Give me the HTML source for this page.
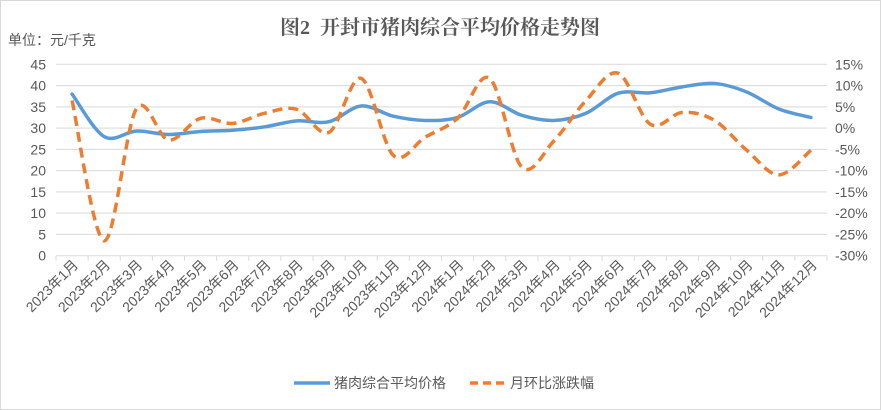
<!DOCTYPE html>
<html><head><meta charset="utf-8"><style>
body{margin:0;background:#fff}
svg{display:block;font-family:"Liberation Sans","Noto Sans CJK SC",sans-serif}
</style></head><body>
<svg id="s" width="881" height="410" xmlns="http://www.w3.org/2000/svg">
<rect x="0.5" y="0.5" width="880" height="409" fill="#fff" stroke="#d9d9d9"/>
<text x="440" y="34" text-anchor="middle" font-size="20" font-weight="bold" fill="#595959" font-family="'Liberation Serif','Noto Serif CJK SC',serif">图2&#160;&#160;开封市猪肉综合平均价格走势图</text>
<text x="8" y="45" font-size="14" fill="#595959">单位：元/千克</text>
<g id="g"></g>
</svg>
<script>
var g=document.getElementById('g'),h='';
var L=56,R=827,T=64.3,B=255.7;
for(var i=0;i<=9;i++){var y=T+(B-T)*i/9;
h+='<line x1="'+L+'" x2="'+R+'" y1="'+y+'" y2="'+y+'" stroke="#d9d9d9"/>';
h+='<text x="46" y="'+(y+5)+'" text-anchor="end" font-size="14" fill="#595959">'+(45-5*i)+'</text>';
h+='<text x="835" y="'+(y+5)+'" font-size="14" fill="#595959">'+(15-5*i)+'%</text>';}
var w=(R-L)/24;
for(var i=0;i<=24;i++){var x=L+w*i;h+='<line x1="'+x+'" x2="'+x+'" y1="'+B+'" y2="'+(B+5)+'" stroke="#d9d9d9"/>';}
for(var i=0;i<24;i++){var x=L+w*i+w/2+7,y=B+10;var lab=(i<12?'2023':'2024')+'年'+(i%12+1)+'月';
h+='<text transform="translate('+x+','+y+') rotate(-45)" text-anchor="end" font-size="14" fill="#595959">'+lab+'</text>';}
var b=[38,28,29.3,28.5,29.2,29.5,30.3,31.7,31.5,35.2,32.8,31.8,32.5,36.2,33,31.8,33.5,38.2,38.3,39.7,40.5,38.5,34.5,32.5];
var o=[6.5,-26.5,4.5,-2.8,2.3,1.1,3.5,4.4,-1,11.7,-6.4,-2.1,2.3,11.7,-9.2,-3,6.5,12.9,0.9,3.7,1.8,-5.2,-11,-5.2];
function path(pts){var d='M'+pts[0][0]+','+pts[0][1];for(var i=0;i<pts.length-1;i++){var p0=pts[i-1]||pts[i],p1=pts[i],p2=pts[i+1],p3=pts[i+2]||p2;var t=6;
d+=' C'+(p1[0]+(p2[0]-p0[0])/t)+','+(p1[1]+(p2[1]-p0[1])/t)+' '+(p2[0]-(p3[0]-p1[0])/t)+','+(p2[1]-(p3[1]-p1[1])/t)+' '+p2[0]+','+p2[1];}return d;}
var pb=b.map(function(v,i){return [L+w*i+w/2,B-(B-T)*v/45]});
var po=o.map(function(v,i){return [L+w*i+w/2,T+(B-T)*(15-v)/45]});
h+='<path d="'+path(pb)+'" fill="none" stroke="#5b9bd5" stroke-width="3.5" stroke-linecap="round"/>';
h+='<path d="'+path(po)+'" fill="none" stroke="#ed7d31" stroke-width="3.5" stroke-dasharray="10,6"/>';
h+='<line x1="294" x2="330" y1="383" y2="383" stroke="#5b9bd5" stroke-width="3.5"/><text x="334" y="388" font-size="14" fill="#595959">猪肉综合平均价格</text>';
h+='<line x1="470" x2="506" y1="383" y2="383" stroke="#ed7d31" stroke-width="3.5" stroke-dasharray="8,5"/><text x="510" y="388" font-size="14" fill="#595959">月环比涨跌幅</text>';
g.innerHTML=h;
</script>
</body></html>
